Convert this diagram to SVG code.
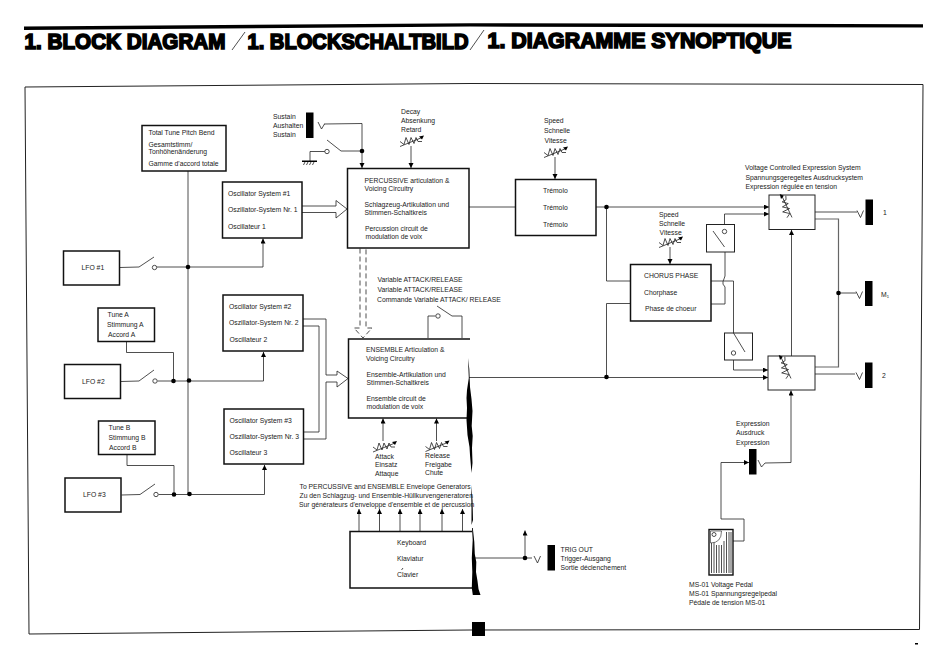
<svg xmlns="http://www.w3.org/2000/svg" xmlns:xlink="http://www.w3.org/1999/xlink" width="950" height="664" viewBox="0 0 950 664">
<style>
text{font-family:"Liberation Sans",Arial,sans-serif;font-size:6.8px;fill:#1a1a1a}
.title{font-size:22px;font-weight:700;fill:#000;stroke:#000;stroke-width:1.700;stroke-linejoin:miter}
.b{fill:#fff;stroke:#111;stroke-width:1.500}
.n{fill:#fff;stroke:#222;stroke-width:1}
.l,.s{fill:none;stroke:#222;stroke-width:.8}
.g{fill:none;stroke:#666;stroke-width:1.200}
.j{fill:#000}
.o{fill:#fff;stroke:#222;stroke-width:.8}
.d{fill:#000}
.a{marker-end:url(#ah)}
</style>
<defs>
<marker id="ah" markerUnits="userSpaceOnUse" markerWidth="6" markerHeight="6" refX="5" refY="2.5" orient="auto"><path d="M0,0L5,2.5L0,5z" fill="#000"/></marker>
<g id="pot"><path class="l" d="M0,11L22,2"/><path class="l" d="M0,6l4,3 2,-7 3,7 2,-7 3,6 2,-6 2,4h4"/><path d="M19,1l5,-1 -2,4z" fill="#000"/></g>
<path id="plug" class="l" d="M0,0l3.500,7 3,-7"/>
</defs>

<path id="top-rule" d="M24,26.500L470,23.200L923,24.200V27.600L470,26.600L24,30z" fill="#000"/>
<text class="title" x="24.500" y="49" textLength="201" lengthAdjust="spacingAndGlyphs">1. BLOCK DIAGRAM</text>
<path class="l" d="M232,50L245,32M470,50L484,30"/>
<text class="title" x="247.500" y="48.500" textLength="221" lengthAdjust="spacingAndGlyphs">1. BLOCKSCHALTBILD</text>
<text class="title" x="487.500" y="47.500" textLength="304" lengthAdjust="spacingAndGlyphs">1. DIAGRAMME SYNOPTIQUE</text>
<path id="frame" fill="none" stroke="#222" stroke-width="1" d="M25,87L470,83.500L923,84.500L919.500,629.500L470,630L29,634z"/>

<g id="connectors">
<path class="l" d="M188,171V494"/>
<path class="l" d="M120,267.500L139,267L154,257"/><path class="l a" d="M156.500,267H263V238.500"/>
<path class="l" d="M121,381.500L139,381L154,370"/><path class="l a" d="M157.500,381H263.500V352"/>
<path class="l" d="M121.500,495L140,494.500L155,484"/><path class="l a" d="M158.500,494.500H264.500V465"/>
<path class="l" d="M126.500,341.500V352.500H173.500V381"/>
<path class="l" d="M127,454.500V465.500H174V494.500"/>
<path class="s" d="M302,206H336V200.500L347,209L336,218V212.500H302"/>
<path class="s" d="M303,319H326V375H337V371L348,378.500L337,387V382H326V439H304"/>
<path class="s" d="M303,326H319V432H304"/>
<path class="s" stroke-dasharray="5 3" d="M360,248.500V328H354L363,338L372,328H366V248.500"/>
<path class="l a" d="M324,124L362,123.500V168"/>
<path class="l" d="M327,140L341,151H362"/>
<path class="l" d="M325,151.500H310V161"/>
<path class="l a" d="M411,146V168"/>
<path class="l" d="M428,338V316H435.500M437,306L452,316H462V338"/>
<path class="l" d="M469,207H515"/>
<path class="l a" d="M555,157V179"/>
<path class="l a" d="M596,207H769"/>
<path class="l" d="M606.500,207V281H630M630,303.500H606.500V377"/>
<path class="l a" d="M469,377.500H768"/>
<path class="l a" d="M670,247V264"/>
<path class="l" d="M711,281H733.500V333L745,352"/>
<path class="l" d="M711,304H725V287Q722,284 723,281.500T725,276V247L713,231"/>
<path class="l a" d="M724.500,229V214H769"/>
<path class="l a" d="M733.500,355.500V370H768"/>
<path class="l a" d="M791.500,356V230"/>
<path class="l" d="M815,212H857"/>
<path class="g" d="M815,219H838.500V367H815"/>
<path class="l" d="M838.500,293H856"/>
<path class="l" d="M815,374H855"/>
<path class="l a" d="M733,541H744V519H721V462.500H749"/>
<path class="l a" d="M765,463L791,462.500V390.500"/>
<path class="l a" d="M383,441V418.500"/>
<path class="l a" d="M436.500,441V418.500"/>
<path class="l a" d="M359,531V509"/><path class="l a" d="M379.500,531V509"/><path class="l a" d="M400,531V509"/><path class="l a" d="M420,531V509"/><path class="l a" d="M442,531V509"/><path class="l a" d="M462.500,531V509"/>
<path class="l" d="M473,558H532"/>
<path class="l a" d="M525,558V530.500"/>
<circle class="d" cx="188" cy="267" r="2.300"/><circle class="d" cx="173.500" cy="381" r="2.300"/><circle class="d" cx="189" cy="380.500" r="2.300"/><circle class="d" cx="174" cy="494.500" r="2.300"/><circle class="d" cx="189.500" cy="494" r="2.300"/>
<circle class="d" cx="362" cy="151" r="2.300"/><circle class="d" cx="606.500" cy="207" r="2.300"/><circle class="d" cx="606.500" cy="377" r="2.300"/><circle class="d" cx="838.500" cy="293" r="2.300"/><circle class="d" cx="525" cy="558" r="2.300"/>
<circle class="o" cx="154.500" cy="267.500" r="2.200"/><circle class="o" cx="155" cy="381" r="2.200"/><circle class="o" cx="156" cy="494.500" r="2.200"/><circle class="o" cx="327" cy="151.500" r="2.200"/><circle class="o" cx="438" cy="316" r="2.200"/>
</g>

<g id="total-tune"><rect class="b" x="142" y="125.500" width="84" height="45.500"/><text x="148.500" y="134.500">Total Tune Pitch Bend</text><text x="148.500" y="146.500">Gesamtstimm/</text><text x="148.500" y="154">Tonhöhenänderung</text><text x="148.500" y="166">Gamme d'accord totale</text></g>
<g id="osc1"><rect class="b" x="222.500" y="182" width="79.500" height="56"/><text x="228" y="196">Oscillator System #1</text><text x="228" y="212">Oszillator-System Nr. 1</text><text x="228" y="229">Oscillateur 1</text></g>
<g id="osc2"><rect class="b" x="223" y="295" width="80" height="56"/><text x="229" y="309">Oscillator System #2</text><text x="229" y="325">Oszillator-System Nr. 2</text><text x="229.500" y="342">Oscillateur 2</text></g>
<g id="osc3"><rect class="b" x="224" y="409" width="79.500" height="55"/><text x="229.500" y="423">Oscillator System #3</text><text x="229.500" y="439">Oszillator-System Nr. 3</text><text x="229.500" y="455">Oscillateur 3</text></g>
<g id="lfo1"><rect class="b" x="63.500" y="251" width="56" height="34"/><text x="81.500" y="270">LFO #1</text></g>
<g id="lfo2"><rect class="b" x="64.500" y="364.500" width="56" height="34"/><text x="82" y="383.500">LFO #2</text></g>
<g id="lfo3"><rect class="b" x="65" y="478" width="56" height="34"/><text x="83" y="497">LFO #3</text></g>
<g id="tune-a"><rect class="b" x="98" y="308" width="56.500" height="33.500"/><text x="107.500" y="317">Tune A</text><text x="107" y="327">Stimmung A</text><text x="108" y="337">Accord A</text></g>
<g id="tune-b"><rect class="b" x="98.500" y="421" width="56.500" height="33.500"/><text x="108.500" y="430">Tune B</text><text x="108.500" y="440">Stimmung B</text><text x="109" y="450">Accord B</text></g>
<g id="percussive"><rect class="b" x="347.500" y="168.500" width="121.500" height="79.500"/><text x="364.500" y="183">PERCUSSIVE articulation &amp;</text><text x="364.500" y="191">Voicing Circuitry</text><text x="364.500" y="207">Schlagzeug-Artikulation und</text><text x="364.500" y="215">Stimmen-Schaltkreis</text><text x="365" y="231">Percussion circuit de</text><text x="365.500" y="239">modulation de voix</text></g>
<g id="ensemble"><path class="b" d="M470,339H348.500V418H468"/><text x="366" y="352">ENSEMBLE Articulation &amp;</text><text x="366" y="361">Voicing Circuitry</text><text x="366.500" y="377">Ensemble-Artikulation und</text><text x="366.500" y="385">Stimmen-Schaltkreis</text><text x="366.500" y="401">Ensemble circuit de</text><text x="366.500" y="409">modulation de voix</text></g>
<g id="keyboard"><path class="b" d="M472,531.500H350V588H472"/><text x="397" y="545">Keyboard</text><text x="397" y="561">Klaviatur</text><text x="397" y="577">Clavier</text><path class="l" d="M401.500,570L403,568"/></g>
<g id="tremolo"><rect class="b" x="515.500" y="179.500" width="80.500" height="56"/><text x="543" y="193">Trémolo</text><text x="543" y="210">Trémolo</text><text x="543" y="227">Trémolo</text></g>
<g id="chorus"><rect class="b" x="630.500" y="264.500" width="80.500" height="56.500"/><text x="644" y="278">CHORUS PHASE</text><text x="644" y="294.500">Chorphase</text><text x="645" y="311">Phase de choeur</text></g>
<g id="switch-upper"><rect class="n" x="706.500" y="224.500" width="28" height="27.500"/><path class="l" d="M713,231L724.500,247"/><circle class="o" cx="724.500" cy="231.500" r="2.200"/></g>
<g id="switch-lower"><rect class="n" x="724.500" y="333" width="28" height="27"/><path class="l" d="M733.500,333L745,352"/><circle class="o" cx="733.500" cy="353" r="2.200"/></g>
<g id="vca1"><rect class="n" x="769" y="195" width="46" height="34.500"/><use xlink:href="#pot" href="#pot" transform="translate(781,218) rotate(-93)"/></g>
<g id="vca2"><rect class="n" x="768" y="356" width="47" height="34"/><use xlink:href="#pot" href="#pot" transform="translate(780,379) rotate(-93)"/></g>
<g id="sustain"><text x="273" y="119">Sustain</text><text x="273" y="128">Aushalten</text><text x="273" y="137">Sustain</text><rect class="j" x="306" y="112.500" width="7.500" height="25.500"/><path class="l" d="M318,122l3.500,7 3,-5"/></g>
<g id="ground"><path d="M302,160.500h15v1.500h-15z" fill="#000"/><path class="l" d="M305,162l-1.500,3M308,162l-1.500,3M311,162l-1.500,3M314,162l-1.500,3"/></g>
<g id="decay"><text x="401" y="114">Decay</text><text x="401" y="123">Absenkung</text><text x="401" y="132">Retard</text><use xlink:href="#pot" href="#pot" transform="translate(400,135.500)"/></g>
<g id="speed-tremolo"><text x="544" y="123">Speed</text><text x="544" y="133">Schnelle</text><text x="544.500" y="142.500">Vitesse</text><use xlink:href="#pot" href="#pot" transform="translate(544,146.500)"/></g>
<g id="speed-chorus"><text x="659" y="217">Speed</text><text x="659" y="226">Schnelle</text><text x="659.500" y="234.500">Vitesse</text><use xlink:href="#pot" href="#pot" transform="translate(659,236.500)"/></g>
<g id="attack"><use xlink:href="#pot" href="#pot" transform="translate(373,441)"/><text x="375" y="458.500">Attack</text><text x="375" y="467">Einsatz</text><text x="375" y="476">Attaque</text></g>
<g id="release"><use xlink:href="#pot" href="#pot" transform="translate(425.500,440.500)"/><text x="425" y="457.500">Release</text><text x="425" y="466.500">Freigabe</text><text x="425" y="475">Chute</text></g>
<g id="var-attack"><text x="377.500" y="282">Variable ATTACK/RELEASE</text><text x="377.500" y="292">Variable ATTACK/RELEASE</text><text x="377" y="301.500">Commande Variable ATTACK/ RELEASE</text></g>
<g id="env-text"><text x="299.500" y="488.500">To PERCUSSIVE and ENSEMBLE Envelope Generators</text><text x="299.500" y="497.500">Zu den Schlagzug- und Ensemble-Hüllkurvengeneratoren</text><text x="299" y="506.500">Sur générateurs d'enveloppe d'ensemble et de percussion</text></g>
<g id="trig-out"><use xlink:href="#plug" href="#plug" transform="translate(534,556)"/><rect class="j" x="547.500" y="545" width="7.500" height="25.500"/><text x="560.500" y="551.500">TRIG OUT</text><text x="560.500" y="560.500">Trigger-Ausgang</text><text x="560.500" y="570">Sortie déclenchement</text></g>
<g id="vces-text"><text x="745" y="170">Voltage Controlled Expression System</text><text x="745.500" y="179.500">Spannungsgeregeltes Ausdrucksystem</text><text x="745.500" y="189">Expression régulée en tension</text></g>
<g id="out1"><use xlink:href="#plug" href="#plug" transform="translate(857,210.500)"/><rect class="j" x="865.500" y="199.500" width="7.500" height="25.500"/><text x="883" y="214.500">1</text></g>
<g id="outm"><use xlink:href="#plug" href="#plug" transform="translate(856,291.500)"/><rect class="j" x="865" y="281" width="7.500" height="25"/><text x="881" y="296.500">M₁</text></g>
<g id="out2"><use xlink:href="#plug" href="#plug" transform="translate(856,372.500)"/><rect class="j" x="865" y="362.500" width="7.500" height="25.500"/><text x="882" y="377.500">2</text></g>
<g id="expression"><text x="736" y="426">Expression</text><text x="736" y="435">Ausdruck</text><text x="736" y="444.500">Expression</text><rect class="j" x="749" y="449" width="7.500" height="25.500"/><path class="l" d="M758,460l3.500,7 3.500,-4"/></g>
<g id="pedal"><rect x="709" y="529.500" width="24" height="45.500" fill="#fff" stroke="#111" stroke-width="1.400"/><path class="l" d="M711.500,532V573M714,541V573M716.500,545V573M719,545V573M721.500,545V573M724,541V573M726.500,532V573M729,532V573M731,532V573"/><path d="M710.500,531h11q0,12 -11,12z" fill="#fff" stroke="#222" stroke-width=".6"/><circle class="o" cx="714" cy="534.500" r="2"/><text x="689" y="586.500">MS-01 Voltage Pedal</text><text x="689" y="595.500">MS-01 Spannungsregelpedal</text><text x="689" y="605">Pédale de tension MS-01</text></g>

<g id="scan-marks" fill="#000"><path d="M468,358l.8,20 -1.800,12 -.5,8 .5,10 -.5,12 1,15 2,12 .5,8 1.500,18 1,-10 -.5,-15 .7,-12 -1,-10 .8,-15 -1,-12 -1.500,-12 -.7,-18z"/><path d="M471,485l.5,20 0,20 1.500,-5 -.5,-20z"/><path d="M472,528l.7,12 -.9,18 .5,14 -.5,16 1,7 7.700,0 -2,-6 -1,-8 -1.500,-9 .3,-10 -1.500,-8 -.5,-12 -1.500,-14z"/><path d="M472,622h13v14h-13z"/><path d="M915,643h3v1.500h-3z"/></g>
</svg>
